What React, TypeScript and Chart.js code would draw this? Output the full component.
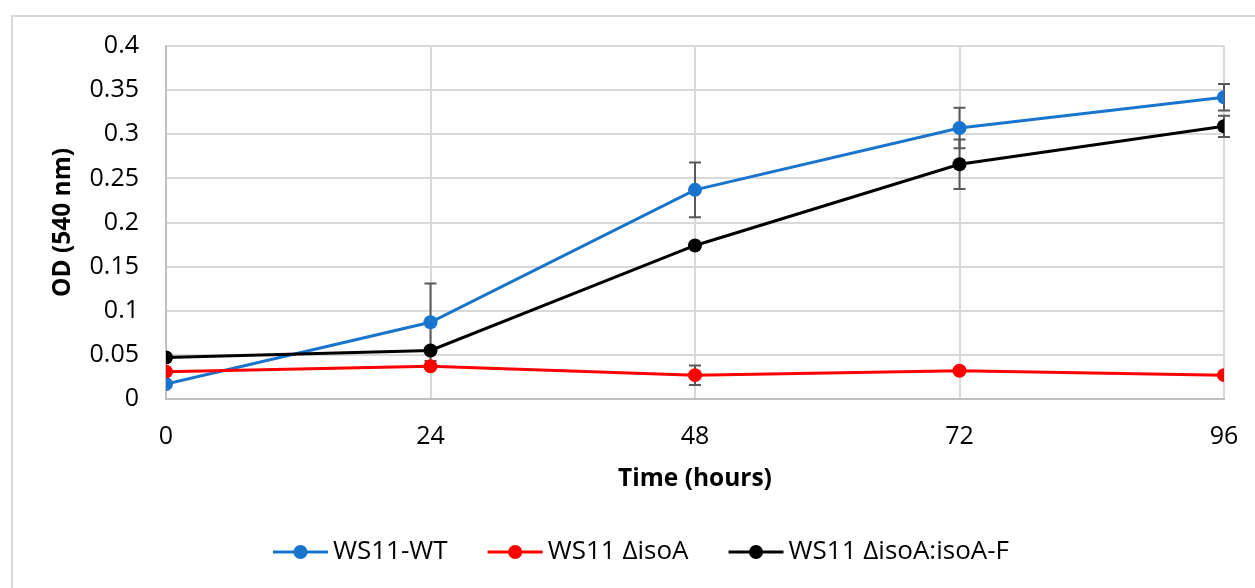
import React, { useEffect, useRef } from "react";
import { Chart, registerables } from "chart.js";

Chart.register(...registerables);

const hours = [0, 24, 48, 72, 96];
const xTicks = [0, 24, 48, 72, 96];
const seriesNames = ["WS11-WT", "WS11 ΔisoA", "WS11 ΔisoA:isoA-F"];
const wtValues = [0.017, 0.087, 0.237, 0.307, 0.342];
const isoAValues = [0.031, 0.037, 0.027, 0.032, 0.027];
const compValues = [0.047, 0.055, 0.174, 0.266, 0.309];
const wtErr = [0, 0.044, 0.031, 0.023, 0.015];
const isoAErr = [0, 0, 0.011, 0, 0];
const compErr = [0, 0, 0, 0.028, 0.012];
const seriesColors = ["#1874cd", "#ff0000", "#000000"];

const FONT = "'Open Sans', 'DejaVu Sans', sans-serif";

const errorBarPlugin = {
  id: "errorBars",
  beforeDatasetsDraw(chart: any) {
    const { ctx, scales } = chart;
    const errs = [wtErr, isoAErr, compErr];
    const vals = [wtValues, isoAValues, compValues];
    ctx.save();
    ctx.strokeStyle = "#595959";
    ctx.lineWidth = 2;
    errs.forEach((e, si) => {
      e.forEach((err, i) => {
        if (!err) return;
        const x = scales.x.getPixelForValue(hours[i]);
        const yTop = scales.y.getPixelForValue(vals[si][i] + err);
        const yBot = scales.y.getPixelForValue(vals[si][i] - err);
        ctx.beginPath();
        ctx.moveTo(x, yTop);
        ctx.lineTo(x, yBot);
        ctx.moveTo(x - 6, yTop);
        ctx.lineTo(x + 6, yTop);
        ctx.moveTo(x - 6, yBot);
        ctx.lineTo(x + 6, yBot);
        ctx.stroke();
      });
    });
    ctx.restore();
  },
};

const legendPlugin = {
  id: "customLegend",
  afterDraw(chart: any) {
    const { ctx } = chart;
    ctx.save();
    ctx.font = `26px ${FONT}`;
    const lineW = 55;
    const gapText = 5;
    const gapItem = 40;
    const widths = seriesNames.map((n) => ctx.measureText(n).width);
    const total =
      widths.reduce((a, b) => a + b, 0) +
      seriesNames.length * (lineW + gapText) +
      (seriesNames.length - 1) * gapItem;
    let x = 641 - total / 2;
    const y = 552;
    seriesNames.forEach((n, i) => {
      ctx.strokeStyle = seriesColors[i];
      ctx.lineWidth = 3;
      ctx.beginPath();
      ctx.moveTo(x, y);
      ctx.lineTo(x + lineW, y);
      ctx.stroke();
      ctx.fillStyle = seriesColors[i];
      ctx.beginPath();
      ctx.arc(x + lineW / 2, y, 7, 0, Math.PI * 2);
      ctx.fill();
      ctx.fillStyle = "#000000";
      ctx.textBaseline = "middle";
      ctx.textAlign = "left";
      ctx.fillText(n, x + lineW + gapText, y);
      x += lineW + gapText + widths[i] + gapItem;
    });
    ctx.restore();
  },
};

export default function App() {
  const ref = useRef<HTMLCanvasElement>(null);
  useEffect(() => {
    if (!ref.current) return;
    const mk = (label: string, data: number[], color: string, order: number) => ({
      label,
      data: hours.map((h, i) => ({ x: h, y: data[i] })),
      borderColor: color,
      backgroundColor: color,
      borderWidth: 3,
      pointRadius: 7,
      pointBorderWidth: 0,
      pointBackgroundColor: color,
      tension: 0,
      order,
    });
    const chart = new Chart(ref.current, {
      type: "line",
      data: {
        datasets: [
          mk(seriesNames[0], wtValues, seriesColors[0], 3),
          mk(seriesNames[1], isoAValues, seriesColors[1], 2),
          mk(seriesNames[2], compValues, seriesColors[2], 1),
        ],
      },
      options: {
        responsive: false,
        animation: false,
        layout: { padding: { left: 0, top: 46, right: 31, bottom: 79 } },
        plugins: { legend: { display: false }, tooltip: { enabled: false } },
        scales: {
          x: {
            type: "linear",
            min: 0,
            max: 96,
            afterBuildTicks: (s: any) => {
              s.ticks = xTicks.map((v) => ({ value: v }));
            },
            afterFit: (s: any) => {
              s.height = 110;
              s.paddingLeft = 0;
              s.paddingRight = 0;
            },
            ticks: {
              padding: 23,
              color: "#000000",
              font: { family: FONT, size: 25 },
              maxRotation: 0,
            },
            grid: { color: "#d9d9d9", lineWidth: 2, drawTicks: false },
            border: { color: "#bfbfbf", width: 2 },
            title: {
              display: true,
              text: "Time (hours)",
              color: "#000000",
              font: { family: FONT, size: 24.5, weight: "bold" },
              padding: { top: 0, bottom: 15 },
            },
          },
          y: {
            min: 0,
            max: 0.4,
            ticks: {
              stepSize: 0.05,
              padding: 27,
              color: "#000000",
              font: { family: FONT, size: 25 },
              callback: (v: any) => String(Number(Number(v).toFixed(2))),
            },
            afterFit: (s: any) => {
              s.width = 166;
              s.paddingTop = 0;
              s.paddingBottom = 0;
            },
            grid: { color: "#d9d9d9", lineWidth: 2, drawTicks: false },
            border: { color: "#bfbfbf", width: 2 },
            title: {
              display: true,
              text: "OD (540 nm)",
              color: "#000000",
              font: { family: FONT, size: 24.5, weight: "bold" },
              padding: { top: 48, bottom: 0 },
            },
          },
        },
      },
      plugins: [errorBarPlugin, legendPlugin],
    } as any);
    return () => chart.destroy();
  }, []);
  return (
    <div
      style={{
        position: "fixed",
        left: 0,
        top: 0,
        width: 1255,
        height: 588,
        overflow: "hidden",
        background: "#ffffff",
      }}
    >
      <div
        style={{
          position: "absolute",
          left: 11,
          top: 15,
          width: 1300,
          height: 700,
          border: "2px solid #d9d9d9",
          boxSizing: "border-box",
        }}
      />
      <canvas
        ref={ref}
        width={1255}
        height={588}
        style={{ position: "absolute", left: 0, top: 0 }}
      />
    </div>
  );
}
